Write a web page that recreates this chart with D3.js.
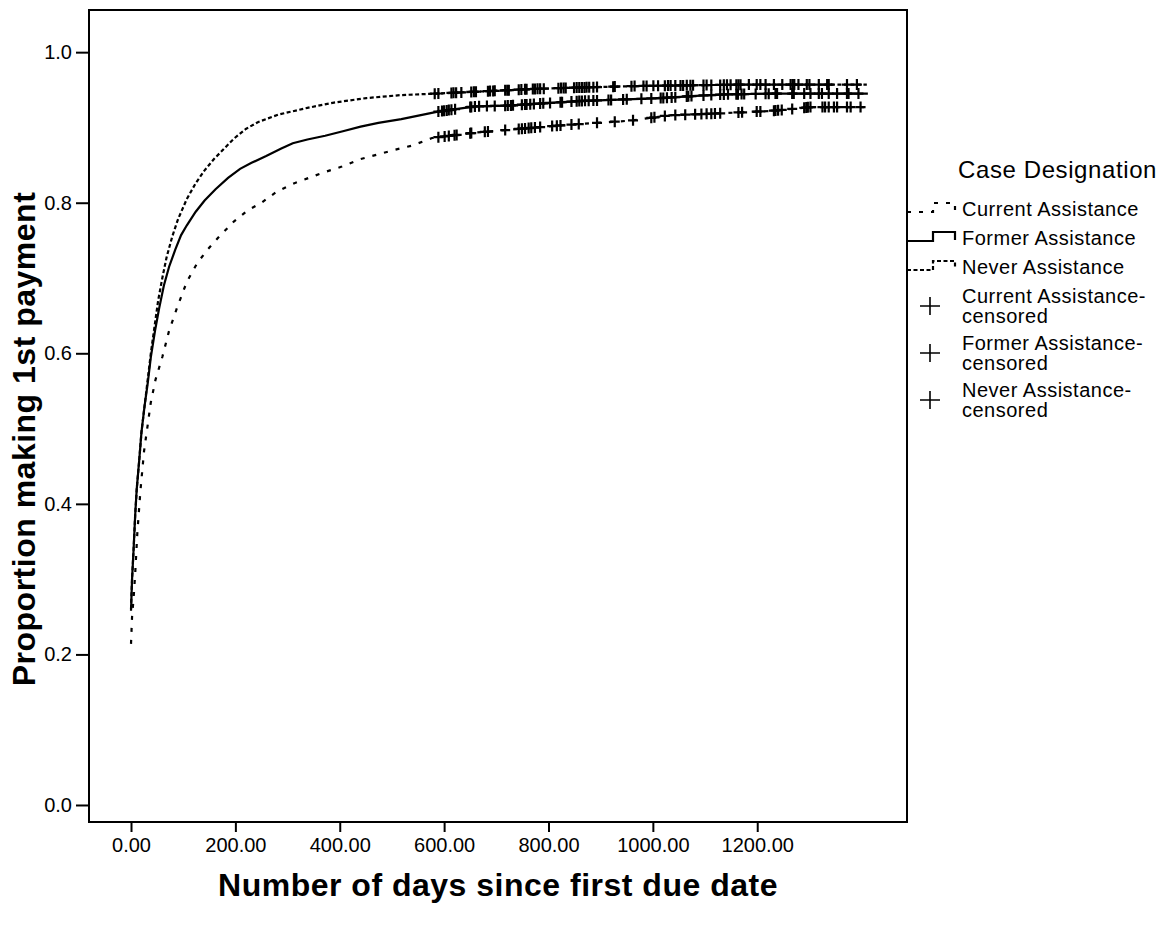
<!DOCTYPE html>
<html>
<head>
<meta charset="utf-8">
<script src="https://cdn.jsdelivr.net/npm/d3@7"></script>
<style>
  body { margin: 0; background: #fff; }
  text { font-family: "Liberation Sans", Arial, sans-serif; fill: #000; }
</style>
</head>
<body>
<svg id="chart" width="1163" height="930"></svg>
<script>
// Survival curves: [days, proportion]
const neverCurve = [
  [0,.26],[2,.30],[5,.34],[8,.385],[11,.42],[16,.46],[20,.495],[26,.53],[32,.565],[38,.60],
  [45,.635],[52,.67],[60,.70],[68,.727],[79,.755],[90,.778],[107,.805],[124,.826],[141,.843],
  [159,.858],[180,.873],[197,.885],[220,.898],[243,.907],[282,.917],[338,.926],[389,.933],
  [451,.939],[518,.943],[587,.945],[677,.948],[767,.951],[857,.953],[970,.955],[1072,.956],
  [1184,.957],[1297,.957],[1410,.957]
];
const formerCurve = [
  [0,.258],[2,.30],[5,.34],[8,.385],[11,.42],[16,.46],[20,.495],[26,.53],[32,.56],[38,.595],
  [46,.63],[54,.66],[63,.69],[73,.715],[85,.738],[96,.757],[107,.77],[124,.788],[141,.803],
  [162,.818],[186,.833],[209,.845],[231,.853],[259,.862],[288,.872],[310,.879],[338,.884],
  [372,.889],[406,.895],[440,.901],[474,.906],[518,.911],[553,.916],[588,.921],[660,.928],
  [722,.929],[790,.932],[857,.935],[936,.937],[1015,.939],[1083,.942],[1139,.944],[1241,.945],
  [1412,.945]
];
const currentCurve = [
  [0,.214],[2,.25],[5,.275],[8,.307],[12,.36],[18,.417],[25,.47],[32,.505],[38,.535],[47,.565],
  [60,.595],[73,.63],[88,.66],[107,.695],[127,.72],[147,.738],[169,.755],[197,.775],[224,.79],
  [250,.80],[280,.815],[313,.826],[337,.832],[368,.84],[404,.848],[440,.858],[472,.864],
  [504,.87],[539,.876],[577,.886],[658,.893],[743,.898],[810,.902],[867,.905],[957,.909],
  [1030,.916],[1137,.919],[1228,.922],[1302,.927],[1412,.927]
];

// Censored cases (days)
const neverCensored = [582,589,614,618,623,633,652,657,661,684,688,694,697,717,721,724,743,748,755,758,
  770,774,779,784,791,819,824,829,833,849,854,859,864,869,873,878,886,893,924,927,959,965,982,988,
  1001,1010,1023,1029,1034,1043,1053,1058,1065,1072,1077,1097,1103,1112,1129,1136,1142,1149,1160,
  1164,1168,1184,1199,1206,1216,1232,1248,1264,1268,1271,1279,1295,1300,1318,1334,1337,1372,1391];
const formerCensored = [589,596,600,605,609,614,621,650,652,659,667,682,697,717,722,728,732,749,755,758,
  765,772,784,790,803,823,826,844,854,859,864,870,877,886,893,915,920,943,950,978,997,1015,1020,
  1027,1036,1043,1065,1068,1074,1097,1112,1129,1136,1144,1160,1163,1170,1175,1197,1216,1222,1235,
  1238,1267,1270,1290,1302,1318,1324,1337,1353,1372,1375,1394];
const currentCensored = [589,601,609,620,624,650,652,678,684,717,743,749,755,762,767,774,784,807,816,823,
  844,858,893,927,962,997,1003,1023,1043,1062,1081,1093,1103,1112,1119,1129,1164,1171,1199,1206,
  1232,1235,1240,1247,1267,1290,1294,1297,1302,1325,1330,1337,1347,1353,1372,1379,1398];

const xTicks = [0, 200, 400, 600, 800, 1000, 1200];
const yTicks = [0, 0.2, 0.4, 0.6, 0.8, 1.0];
const groupNames = ["Current Assistance", "Former Assistance", "Never Assistance"];

const svg = d3.select("#chart");

// padded domains give the frame around the data
const x = d3.scaleLinear().domain([-80.5, 1487]).range([89, 907]);
const y = d3.scaleLinear().domain([-0.0226, 1.056]).range([822, 10]);

const groups = [
  {name: groupNames[0], curve: currentCurve, censored: currentCensored, dash: "4,8"},
  {name: groupNames[1], curve: formerCurve, censored: formerCensored, dash: null},
  {name: groupNames[2], curve: neverCurve, censored: neverCensored, dash: "4,2.5"}
];

// Axes ==============
const xAxis = svg.append("g")
    .attr("transform", `translate(0,${y.range()[0]})`)
    .call(d3.axisBottom(x).tickValues(xTicks).tickFormat(d3.format(".2f")).tickSize(10).tickSizeOuter(0).tickPadding(6));
const yAxis = svg.append("g")
    .attr("transform", `translate(${x.range()[0]},0)`)
    .call(d3.axisLeft(y).tickValues(yTicks).tickFormat(d3.format(".1f")).tickSize(13).tickSizeOuter(0).tickPadding(4));

[xAxis, yAxis].forEach(g => {
  g.select(".domain").remove();
  g.selectAll(".tick line").attr("stroke", "#000").attr("stroke-width", 2);
  g.selectAll(".tick text").attr("font-size", "20px").attr("fill", "#000")
    .style("font-family", "'Liberation Sans', Arial, sans-serif");
});

// Frame
svg.append("rect")
    .attr("x", x.range()[0]).attr("y", y.range()[1])
    .attr("width", x.range()[1] - x.range()[0])
    .attr("height", y.range()[0] - y.range()[1])
    .attr("fill", "none").attr("stroke", "#000").attr("stroke-width", 2);

// Curves
const line = d3.line()
    .x(d => x(d[0]))
    .y(d => y(d[1]));

groups.forEach(g => {
  svg.append("path")
      .datum(g.curve)
      .attr("d", line)
      .attr("fill", "none")
      .attr("stroke", "#000")
      .attr("stroke-width", 2.2)
      .attr("stroke-dasharray", g.dash);

  // censored marks sit on their curve
  const valueAt = d3.scaleLinear().domain(g.curve.map(d => d[0])).range(g.curve.map(d => d[1]));

  svg.append("g").selectAll("path")
      .data(g.censored)
    .enter().append("path")
      .attr("transform", d => `translate(${x(d)},${y(valueAt(d))})`)
      .attr("d", "M-5,0H5M0,-5.5V5.5")
      .attr("stroke", "#000")
      .attr("stroke-width", 2.2);
});

// Axis titles
svg.append("text")
    .attr("x", (x.range()[0] + x.range()[1]) / 2)
    .attr("y", 896)
    .attr("text-anchor", "middle")
    .attr("font-size", "32px")
    .attr("font-weight", "bold")
    .attr("letter-spacing", "0.5px")
    .text("Number of days since first due date");

svg.append("text")
    .attr("transform", "translate(35,439) rotate(-90)")
    .attr("text-anchor", "middle")
    .attr("font-size", "32px")
    .attr("font-weight", "bold")
    .attr("letter-spacing", "0.5px")
    .text("Proportion making 1st payment");

// Legend ==============
const legend = svg.append("g");

legend.append("text")
    .attr("x", 958).attr("y", 178)
    .attr("font-size", "24px")
    .attr("letter-spacing", "0.6px")
    .text("Case Designation");

const lineRows = [216, 245, 274];
groups.forEach((g, i) => {
  let b = lineRows[i];
  legend.append("path")
      .attr("d", `M907,${b - 4}H933V${b - 13}H955V${b - 5}`)
      .attr("fill", "none")
      .attr("stroke", "#000")
      .attr("stroke-width", 2.2)
      .attr("stroke-dasharray", g.dash);
  legend.append("text")
      .attr("x", 962).attr("y", b)
      .attr("font-size", "20px")
      .attr("letter-spacing", "0.5px")
      .text(g.name);
});

const markRows = [303, 350, 397];
groups.forEach((g, i) => {
  let b = markRows[i];
  legend.append("path")
      .attr("transform", `translate(930,${b + 3})`)
      .attr("d", "M-10,0H10M0,-9V9")
      .attr("stroke", "#000")
      .attr("stroke-width", 1.6);
  let t = legend.append("text")
      .attr("x", 962).attr("y", b)
      .attr("font-size", "20px")
      .attr("letter-spacing", "0.5px");
  t.append("tspan").attr("x", 962).text(g.name + "-");
  t.append("tspan").attr("x", 962).attr("dy", 20).text("censored");
});
</script>
</body>
</html>
